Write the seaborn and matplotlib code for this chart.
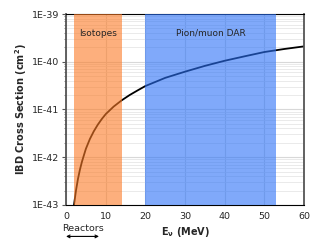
import matplotlib
matplotlib.use("Agg")
import matplotlib.pyplot as plt
import matplotlib.ticker as mticker
import seaborn as sns
import pandas as pd

# IBD cross section
energy_mev = [2.0, 2.5, 3.0, 3.5, 4.0, 4.5, 5.0, 6.0, 7.0, 8.0, 9.0, 10.0, 12.0, 14.0,
              16.0, 18.0, 20.0, 25.0, 30.0, 35.0, 40.0, 45.0, 50.0, 55.0, 60.0]
xsec_cm2 = [1.0e-43, 2.0e-43, 3.5e-43, 5.5e-43, 8.0e-43, 1.1e-42, 1.5e-42, 2.4e-42,
            3.5e-42, 4.8e-42, 6.3e-42, 8.0e-42, 1.15e-41, 1.55e-41, 2.0e-41, 2.5e-41,
            3.1e-41, 4.6e-41, 6.2e-41, 8.2e-41, 1.05e-40, 1.3e-40, 1.6e-40, 1.85e-40, 2.1e-40]

isotope_range = (2.0, 14.0)
dar_range = (20.0, 53.0)
reactor_range = (0.0, 8.3)
y_ticks = [1e-43, 1e-42, 1e-41, 1e-40, 1e-39]
y_ticklabels = ["1E-43", "1E-42", "1E-41", "1E-40", "1E-39"]

df = pd.DataFrame({"E": energy_mev, "sigma": xsec_cm2})

sns.set_style("whitegrid")
plt.rcParams["font.family"] = ["DejaVu Sans"]

fig = plt.figure(figsize=(3.27, 2.46), dpi=100)
ax = fig.add_axes([0.202, 0.167, 0.728, 0.776])

sns.lineplot(data=df, x="E", y="sigma", color="black", linewidth=1.3, ax=ax, zorder=2)

ax.axvspan(*isotope_range, color="#fc7b26", alpha=0.6, lw=0, zorder=3)
ax.axvspan(*dar_range, color="#2b71f7", alpha=0.6, lw=0, zorder=3)

ax.set_yscale("log")
ax.set_xlim(0, 60)
ax.set_ylim(1e-43, 1e-39)
ax.set_xticks([0, 10, 20, 30, 40, 50, 60])
ax.set_yticks(y_ticks)
ax.set_yticklabels(y_ticklabels)
ax.yaxis.set_minor_locator(mticker.LogLocator(base=10, subs=range(2, 10), numticks=20))
ax.yaxis.set_minor_formatter(mticker.NullFormatter())

ax.grid(True, which="major", color="#d8d8d8", linewidth=0.8)
ax.grid(True, which="minor", axis="y", color="#e6e6e6", linewidth=0.6)
ax.tick_params(axis="both", which="major", labelsize=6.8, length=3, color="#555555", pad=2,
               left=True, bottom=False)
ax.tick_params(axis="y", which="minor", length=1.5, color="#777777", left=True)

for side in ["top", "bottom"]:
    ax.spines[side].set_color("black")
    ax.spines[side].set_linewidth(0.8)
for side in ["left", "right"]:
    ax.spines[side].set_color("#555555")
    ax.spines[side].set_linewidth(1.3)

ax.text(8, 4e-40, "Isotopes", ha="center", va="center", fontsize=6.5, zorder=4)
ax.text(36.5, 4e-40, "Pion/muon DAR", ha="center", va="center", fontsize=6.5, zorder=4)

ax.set_xlabel(r"E$_\mathbf{\nu}$ (MeV)", fontsize=7, fontweight="bold", labelpad=3)
ax.set_ylabel(r"IBD Cross Section (cm$^\mathbf{2}$)", fontsize=7, fontweight="bold", labelpad=2)

trans = ax.get_xaxis_transform()
ax.text(sum(reactor_range) / 2, -0.125, "Reactors", transform=trans, ha="center", va="center",
        fontsize=6.8, clip_on=False)
ax.annotate("", xy=(reactor_range[0], -0.165), xytext=(reactor_range[1], -0.165),
            xycoords=trans, textcoords=trans,
            arrowprops=dict(arrowstyle="<->", color="black", lw=0.8, shrinkA=0, shrinkB=0,
                            mutation_scale=5))

fig.savefig("out.png", dpi=100)
